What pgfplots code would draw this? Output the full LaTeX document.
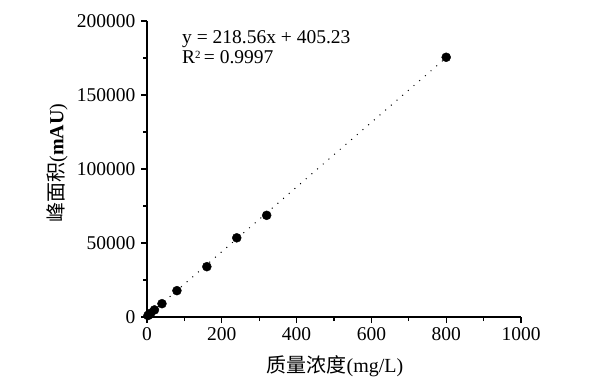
\documentclass[border=0pt]{standalone}
\usepackage{pgfplots}
\pgfplotsset{compat=1.18}
\usepackage{fontspec}
\setmainfont{Liberation Serif}
\newfontfamily\cjk{Noto Sans CJK SC}
\begin{document}
\begin{tikzpicture}
\begin{axis}[
  at={(0,0)}, anchor=south west, scale only axis,
  width=374pt, height=296pt,
  xmin=0, xmax=1000, ymin=0, ymax=200000,
  axis lines=left,
  axis line style={line width=1.4pt, -},
  tick align=outside,
  major tick length=6pt, minor tick length=4pt,
  tick style={line width=1.2pt, black},
  xtick={0,200,...,1000}, minor x tick num=1,
  ytick={0,50000,...,200000}, minor y tick num=1,
  scaled y ticks=false,
  /pgf/number format/assume math mode=true,
  yticklabel style={/pgf/number format/fixed, /pgf/number format/1000 sep={}, xshift=-2pt},
  xticklabel style={/pgf/number format/1000 sep={}, yshift=-1pt},
  tick label style={font=\fontsize{19.5}{22}\selectfont},
  clip=false,
]
\addplot[black, line width=1pt, dash pattern=on 1pt off 6.5pt] coordinates {(0,405) (800,175253)};
\addplot[only marks, mark=*, mark size=4.5pt, black] coordinates {
 (2.5,1000) (5,1500) (10,2600) (20,4800) (40,9000) (80,17800)
 (160,34000) (240,53500) (320,68700) (800,175500)};
\end{axis}
\node[anchor=base west, font=\fontsize{19.5}{22}\selectfont, inner sep=0pt] at (35pt,273pt) {y = 218.56x + 405.23};
\node[anchor=base west, font=\fontsize{19.5}{22}\selectfont, inner sep=0pt] at (35pt,253pt) {R\raisebox{0.3em}{\fontsize{11}{11}\selectfont 2}\,= 0.9997};
\node[rotate=90, font=\fontsize{20}{22}\selectfont, inner sep=0pt] at (-90pt,154pt) {{\cjk 峰面积}(\textbf{mAU})};
\node[font=\fontsize{20}{22}\selectfont, inner sep=0pt] at (188pt,-49pt) {{\cjk 质量浓度}(mg/L)};
\path[use as bounding box] (-147pt,-65pt) rectangle (462pt,317pt);
\end{tikzpicture}
\end{document}
